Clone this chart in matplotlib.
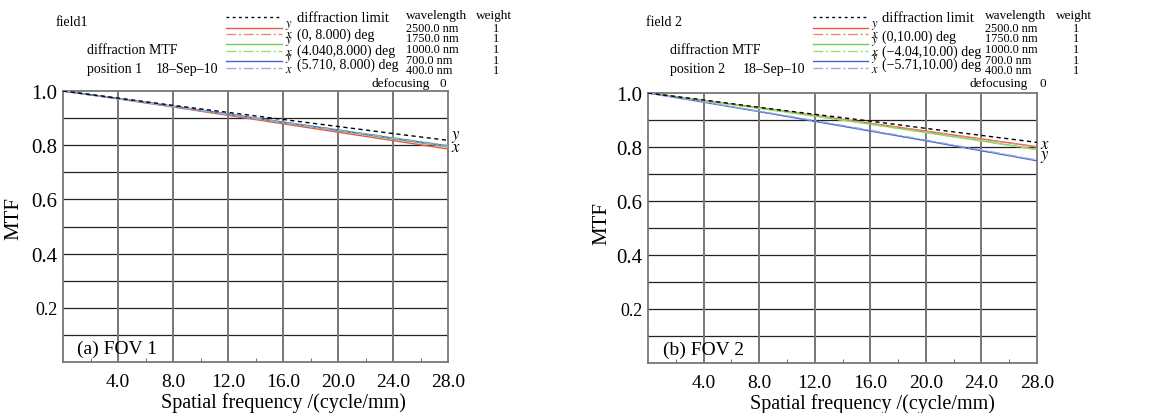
import numpy as np
import matplotlib.pyplot as plt
from matplotlib.lines import Line2D

plt.rcParams['font.family'] = ['Liberation Serif', 'DejaVu Serif']
plt.rcParams['mathtext.fontset'] = 'stix'

# spatial frequency (cycle/mm)
freq = [0, 4, 8, 12, 16, 20, 24, 28]

# panel (a) FOV 1
diff_a = [1.0, 0.974, 0.947, 0.921, 0.895, 0.869, 0.843, 0.818]
a_red_y = [1.0, 0.971, 0.941, 0.910, 0.879, 0.848, 0.817, 0.786]
a_red_x = [1.0, 0.972, 0.943, 0.914, 0.884, 0.855, 0.825, 0.796]
a_green_y = [1.0, 0.972, 0.943, 0.913, 0.883, 0.853, 0.823, 0.793]
a_green_x = [1.0, 0.972, 0.944, 0.915, 0.886, 0.857, 0.828, 0.799]
a_blue_y = [1.0, 0.972, 0.944, 0.915, 0.885, 0.856, 0.826, 0.797]
a_blue_x = [1.0, 0.972, 0.943, 0.914, 0.884, 0.855, 0.826, 0.796]

# panel (b) FOV 2
diff_b = [1.0, 0.974, 0.947, 0.921, 0.896, 0.869, 0.843, 0.817]
b_red_y = [1.0, 0.973, 0.945, 0.917, 0.888, 0.859, 0.830, 0.801]
b_red_x = [1.0, 0.973, 0.945, 0.916, 0.887, 0.858, 0.829, 0.800]
b_green_y = [1.0, 0.972, 0.944, 0.915, 0.885, 0.854, 0.823, 0.791]
b_green_x = [1.0, 0.972, 0.943, 0.914, 0.884, 0.853, 0.822, 0.790]
b_blue_y = [1.0, 0.966, 0.931, 0.895, 0.859, 0.823, 0.786, 0.749]
b_blue_x = [1.0, 0.967, 0.933, 0.898, 0.862, 0.826, 0.789, 0.752]

wavelengths = ['2500.0 nm', '1750.0 nm', '1000.0 nm', '700.0 nm', '400.0 nm']
weights = ['1', '1', '1', '1', '1']
fields_a = ['(0, 8.000) deg', '(4.040,8.000) deg', '(5.710, 8.000) deg']
fields_b = ['(0,10.00) deg', '(\u22124.04,10.00) deg', '(\u22125.71,10.00) deg']

RED, RED2 = '#ee5544', '#f08878'
GREEN, GREEN2 = '#77c855', '#99dd77'
BLUE, BLUE2 = '#4466cc', '#99aadd'
DD = (0, (7, 2, 1.5, 2))

W, H = 1156, 414
fig = plt.figure(figsize=(W / 100, H / 100), dpi=100)


def px(x, y):
    return x / W, 1 - y / H


def ftext(x, y, s, size=11, **kw):
    fig.text(*px(x, y), s, fontsize=size, va='center', **kw)


def fline(x0, x1, y, color, ls, lw=1.0):
    fig.add_artist(Line2D([x0 / W, x1 / W], [1 - y / H, 1 - y / H],
                          color=color, ls=ls, lw=lw, transform=fig.transFigure))


# header x positions (pixels): field, MTF/position, date, legend line start/end,
# x/y marks, legend texts, wavelength, weight, defocusing, defocus value
panels = [
    dict(rect=[63, 92, 448, 363], field='field1', pos='position 1',
         hx=[56, 87, 156, 226, 282, 285, 297, 406, 476, 372, 440],
         diff=diff_a, series=[a_red_y, a_red_x, a_green_y, a_green_x, a_blue_y, a_blue_x],
         fields=fields_a, fy=[35, 51, 65], tag='(a) FOV 1',
         ends=[('y', 0.835), ('x', 0.795)], xlab=0.573, ylab=(-0.104, 0.535)),
    dict(rect=[648, 94, 1037, 364], field='field 2', pos='position 2',
         hx=[646, 670, 743, 813, 868, 871, 882, 985, 1056, 970, 1040],
         diff=diff_b, series=[b_red_y, b_red_x, b_green_y, b_green_x, b_blue_y, b_blue_x],
         fields=fields_b, fy=[37, 52, 65], tag='(b) FOV 2',
         ends=[('x', 0.811), ('y', 0.765)], xlab=0.576, ylab=(-0.093, 0.52)),
]

styles = [(RED, '-'), (RED2, DD), (GREEN, '-'), (GREEN2, DD), (BLUE, '-'), (BLUE2, DD)]

for p in panels:
    x0, y0, x1, y1 = p['rect']
    ax = fig.add_axes([x0 / W, 1 - y1 / H, (x1 - x0) / W, (y1 - y0) / H])
    ax.set_xlim(0, 28)
    ax.set_ylim(0, 1.0)

    # grid
    for yv in np.arange(0.1, 1.0, 0.1):
        ax.axhline(yv, color='#222222', lw=0.9, zorder=1)
    for xv in range(4, 28, 4):
        ax.axvline(xv, color='#777777', lw=1.4, zorder=1)

    ax.plot(freq, p['diff'], color='black', ls=(0, (3, 2.5)), lw=1.0, zorder=4)
    for vals, (c, ls) in zip(p['series'], styles):
        ax.plot(freq, vals, color=c, ls=ls, lw=1.0, zorder=3)

    for lab, yv in p['ends']:
        ax.text(28.25, yv, '$' + lab + '$', fontsize=12, va='center', ha='left',
                clip_on=False)

    ax.text(1.05, 0.052, p['tag'], fontsize=14, va='center', ha='left')

    ax.set_xticks([4, 8, 12, 16, 20, 24, 28])
    ax.set_xticklabels(['4.0', '8.0', '12.0', '16.0', '20.0', '24.0', '28.0'])
    ax.set_xticks(range(2, 28, 4), minor=True)
    ax.set_yticks([0.2, 0.4, 0.6, 0.8, 1.0])
    ax.set_yticklabels(['0.2', '0.4', '0.6', '0.8', '1.0'])
    ax.tick_params(axis='both', which='major', length=0, labelsize=15, pad=4)
    ax.tick_params(axis='x', which='major', labelsize=14, pad=8)
    ax.tick_params(axis='x', which='minor', length=3, direction='in', color='#555555')
    ax.get_yticklabels()[0].set_fontsize(13)
    for s in ax.spines.values():
        s.set_color('#777777')
        s.set_linewidth(1.3)

    ax.set_xlabel('Spatial frequency /(cycle/mm)', fontsize=14.5)
    ax.xaxis.set_label_coords(p['xlab'], -0.11)
    ax.set_ylabel('MTF', fontsize=15)
    ax.yaxis.set_label_coords(*p['ylab'])

    # header block
    hx = p['hx']
    ftext(hx[0], 22, p['field'], 10)
    ftext(hx[1], 51, 'diffraction MTF', 10)
    ftext(hx[1], 70, p['pos'], 10)
    ftext(hx[2], 70, '18\u2013Sep\u201310', 10)

    fline(hx[3], hx[4], 18, 'black', (0, (2, 2.5)), 1.0)
    ly = [28.5, 34.5, 45, 52, 62, 69]
    for yy, (c, ls) in zip(ly, styles):
        fline(hx[3], hx[4], yy, c, ls, 1.0)
    for k in range(3):
        ftext(hx[5], ly[2 * k] - 3.5, '$y$', 9)
        ftext(hx[5], ly[2 * k + 1] + 1, '$x$', 9)
    ftext(hx[6], 19, 'diffraction limit', 10.5)
    for k, s in enumerate(p['fields']):
        ftext(hx[6], p['fy'][k], s, 10)

    ftext(hx[7], 16, 'wavelength', 9.5)
    ftext(hx[8], 16, 'weight', 9.5)
    for k, (wl, wt) in enumerate(zip(wavelengths, weights)):
        yy = [29, 39.5, 50, 61, 71][k]
        ftext(hx[7], yy, wl, 8.8)
        ftext(hx[8] + 20, yy, wt, 8.8, ha='center')
    ftext(hx[9], 84, 'defocusing', 9.5)
    ftext(hx[10], 84, '0', 9.5)

fig.savefig('out.png', dpi=100)
